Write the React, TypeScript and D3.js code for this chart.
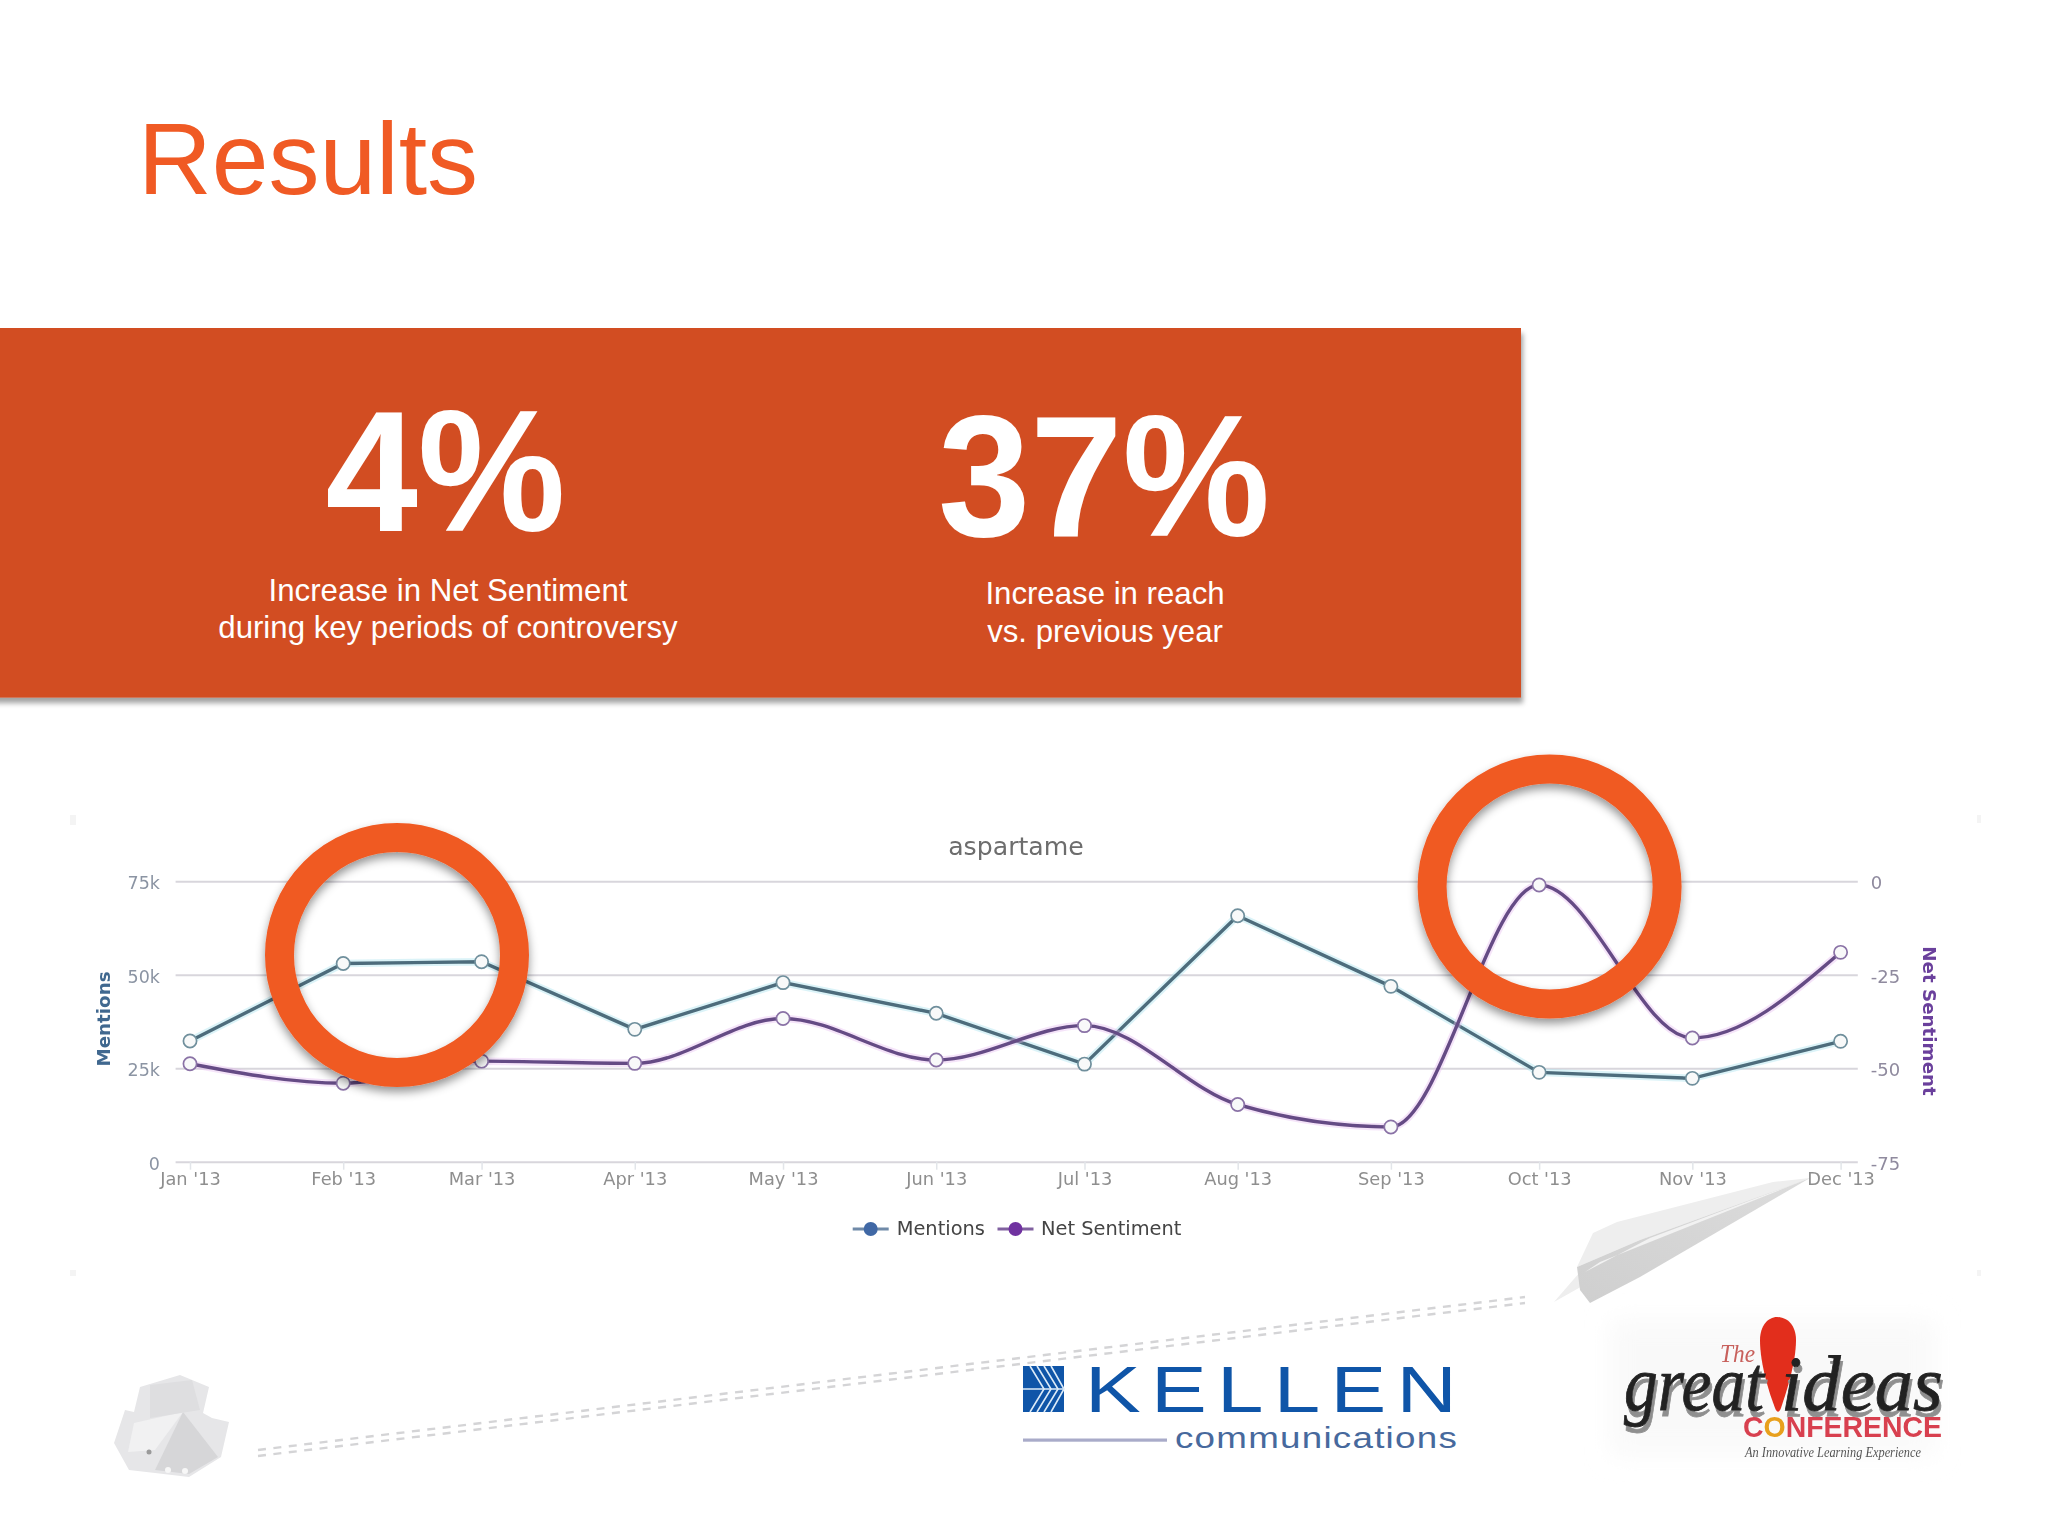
import React, { useEffect, useRef } from 'react';
import * as d3 from 'd3';

const months = ['2013-01-01', '2013-02-01', '2013-03-01', '2013-04-01', '2013-05-01', '2013-06-01',
  '2013-07-01', '2013-08-01', '2013-09-01', '2013-10-01', '2013-11-01', '2013-12-01'];
const monthLabels = ["Jan '13", "Feb '13", "Mar '13", "Apr '13", "May '13", "Jun '13",
  "Jul '13", "Aug '13", "Sep '13", "Oct '13", "Nov '13", "Dec '13"];
const mentions = [32300, 53000, 53500, 35400, 47900, 39700, 26100, 65800, 46900, 23900, 22300, 32200];
const netSentiment = [-48.8, -54, -48.1, -48.7, -36.7, -47.8, -38.6, -59.7, -65.7, -1, -41.9, -19];
const mentionTicks = [0, 25000, 50000, 75000];
const sentimentTicks = [-75, -50, -25, 0];

const SANS = '"Liberation Sans", Arial, sans-serif';
const SERIF = '"Liberation Serif", serif';
const CHART_FONT = '"DejaVu Sans", sans-serif';

const Results: React.FC = () => {
  const chartRef = useRef<SVGGElement>(null);

  useEffect(() => {
    if (!chartRef.current) return;
    const g = d3.select(chartRef.current);
    g.selectAll('*').remove();

    const dates = months.map(d => d3.utcParse('%Y-%m-%d')(d) as Date);
    const left = 175.6, right = 1857.8, top = 881.3, bottom = 1161.7;

    const x = d3.scaleUtc().domain([dates[0], dates[11]]).range([190, 1840.6]);
    const yLeft = d3.scaleLinear().domain([0, 75000]).range([bottom, top]);
    const yRight = d3.scaleLinear().domain([-75, 0]).range([bottom, top]);

    // left axis also draws the grid
    const leftAxis = g.append('g')
      .attr('transform', `translate(${left},0)`)
      .call(d3.axisLeft(yLeft).tickValues(mentionTicks).tickSize(-(right - left)).tickPadding(15.6)
        .tickFormat(d => (+d === 0 ? '0' : `${+d / 1000}k`)));
    leftAxis.select('.domain').remove();
    leftAxis.selectAll('line').attr('stroke', '#d8d6dc').attr('stroke-width', 2);
    leftAxis.selectAll('text').attr('fill', '#8b94a3').attr('font-size', 17.5)
      .attr('font-family', CHART_FONT).attr('dy', '0.42em');

    const rightAxis = g.append('g')
      .attr('transform', `translate(${right},0)`)
      .call(d3.axisRight(yRight).tickValues(sentimentTicks).tickSize(0).tickPadding(13)
        .tickFormat(d => String(d)));
    rightAxis.select('.domain').remove();
    rightAxis.selectAll('text').attr('fill', '#8f8a9e').attr('font-size', 18)
      .attr('font-family', CHART_FONT).attr('dy', '0.42em');

    const bottomAxis = g.append('g')
      .attr('transform', `translate(0,${bottom})`)
      .call(d3.axisBottom(x).tickValues(dates).tickSize(8).tickPadding(3)
        .tickFormat((_, i) => monthLabels[i]));
    bottomAxis.select('.domain').remove();
    bottomAxis.selectAll('line').attr('stroke', '#e2e5e9').attr('stroke-width', 1.5);
    bottomAxis.selectAll('text').attr('fill', '#8e8e8e').attr('font-size', 17.8)
      .attr('font-family', CHART_FONT);

    // titles
    g.append('text').attr('x', 1016).attr('y', 855).attr('text-anchor', 'middle')
      .attr('font-family', CHART_FONT).attr('font-size', 25.2).attr('fill', '#6d6d6d').text('aspartame');
    g.append('text').attr('transform', 'translate(110,1019) rotate(-90)').attr('text-anchor', 'middle')
      .attr('font-family', CHART_FONT).attr('font-size', 18.3).attr('font-weight', 'bold')
      .attr('fill', '#40688f').text('Mentions');
    g.append('text').attr('transform', 'translate(1923,1021) rotate(90)').attr('text-anchor', 'middle')
      .attr('font-family', CHART_FONT).attr('font-size', 18.3).attr('font-weight', 'bold')
      .attr('fill', '#6b3f9c').text('Net Sentiment');

    // series
    const lineMentions = d3.line<number>()
      .x((_, i) => x(dates[i])).y(d => yLeft(d));
    const lineSentiment = d3.line<number>()
      .x((_, i) => x(dates[i])).y(d => yRight(d)).curve(d3.curveMonotoneX);

    const series = [
      { values: mentions, path: lineMentions, y: yLeft, color: '#4d6c7b', halo: '#a5e0ee', marker: '#6f8f9c' },
      { values: netSentiment, path: lineSentiment, y: yRight, color: '#654c85', halo: '#e6bcf0', marker: '#8a72a6' },
    ];
    series.forEach(s => {
      g.append('path').attr('d', s.path(s.values)).attr('fill', 'none')
        .attr('stroke', s.halo).attr('stroke-opacity', 0.4).attr('stroke-width', 7.5);
      g.append('path').attr('d', s.path(s.values)).attr('fill', 'none')
        .attr('stroke', s.color).attr('stroke-width', 3.4);
    });
    series.forEach(s => {
      g.selectAll(null).data(s.values).enter().append('circle')
        .attr('cx', (_, i) => x(dates[i])).attr('cy', d => s.y(d)).attr('r', 6.6)
        .attr('fill', '#f8f9f9').attr('stroke', s.marker).attr('stroke-width', 1.7);
    });

    // legend
    const legend = [
      { name: 'Mentions', sx: 870.7, color: '#3f68a5', line: '#6f8aa8', tx: 896.7 },
      { name: 'Net Sentiment', sx: 1015.5, color: '#7030a0', line: '#80609f', tx: 1041 },
    ];
    legend.forEach(l => {
      g.append('line').attr('x1', l.sx - 18).attr('x2', l.sx + 18).attr('y1', 1229).attr('y2', 1229)
        .attr('stroke', l.line).attr('stroke-width', 3);
      g.append('circle').attr('cx', l.sx).attr('cy', 1229).attr('r', 7).attr('fill', l.color);
      g.append('text').attr('x', l.tx).attr('y', 1235).attr('font-family', CHART_FONT)
        .attr('font-size', 19.4).attr('fill', '#444').text(l.name);
    });
  }, []);

  return (
    <svg width={2048} height={1536} viewBox="0 0 2048 1536"
      style={{ position: 'absolute', left: 0, top: 0, display: 'block', background: '#fff' }}>
      <defs>
        <filter id="boxShadow" x="-2%" y="-5%" width="104%" height="112%">
          <feDropShadow dx="2" dy="5.5" stdDeviation="2.5" floodColor="#000" floodOpacity="0.36" />
        </filter>
        <filter id="ringShadow" x="-20%" y="-20%" width="140%" height="140%">
          <feDropShadow dx="0" dy="5" stdDeviation="5" floodColor="#000" floodOpacity="0.42" />
        </filter>
        <filter id="soft"><feGaussianBlur stdDeviation="0.55" /></filter>
        <filter id="halo" x="-20%" y="-30%" width="140%" height="160%"><feGaussianBlur stdDeviation="12" /></filter>
        <filter id="inkShadow" x="-5%" y="-10%" width="110%" height="130%">
          <feGaussianBlur in="SourceGraphic" stdDeviation="0.5" result="ink" />
          <feOffset in="SourceAlpha" dx="2" dy="6" result="off" />
          <feFlood floodColor="#8f8f8f" />
          <feComposite in2="off" operator="in" result="shade" />
          <feMerge>
            <feMergeNode in="shade" />
            <feMergeNode in="ink" />
          </feMerge>
        </filter>
        <linearGradient id="planeBody" x1="0" y1="1" x2="1" y2="0">
          <stop offset="0" stopColor="#cfcfcf" />
          <stop offset="1" stopColor="#dcdcdc" />
        </linearGradient>
      </defs>

      <text x={138} y={193.5} fontFamily={SANS} fontSize={102} fill="#F05A24">Results</text>

      <rect x={-10} y={328} width={1531} height={369.6} fill="#D24E24" filter="url(#boxShadow)" />
      <g fill="#fff" fontFamily={SANS} textAnchor="middle">
        <text x={445.5} y={531} fontSize={172} fontWeight="bold" textLength={240} lengthAdjust="spacingAndGlyphs">4%</text>
        <text x={1104} y={535.5} fontSize={172} fontWeight="bold" textLength={332} lengthAdjust="spacingAndGlyphs">37%</text>
        <text x={448} y={601} fontSize={31.2}>Increase in Net Sentiment</text>
        <text x={448} y={637.5} fontSize={31.2}>during key periods of controversy</text>
        <text x={1105} y={604} fontSize={31.2}>Increase in reach</text>
        <text x={1105} y={641.5} fontSize={31.2}>vs. previous year</text>
      </g>

      {/* faint corners of the pasted chart image */}
      <g fill="#f4f4f4" filter="url(#soft)">
        <rect x={70} y={815} width={6} height={10} />
        <rect x={1977} y={815} width={4} height={8} />
        <rect x={70} y={1270} width={6} height={6} />
        <rect x={1977} y={1270} width={4} height={6} />
      </g>

      {/* paper ball, dashed trail, plane */}
      <g filter="url(#soft)">
        <polygon points="114,1443 125,1410 134,1412 140,1387 180,1375 209,1387 203,1413 212,1418 229,1422 221,1457 189,1477 155,1473 129,1470" fill="#e6e6e8" />
        <polygon points="183,1412 218,1457 189,1474 155,1470" fill="#d6d6d8" />
        <polygon points="134,1423 183,1412 155,1450 128,1452" fill="#f1f1f2" />
        <polygon points="150,1385 192,1380 200,1410 150,1418" fill="#dedee0" />
        <circle cx={149} cy={1452} r={2.5} fill="#9a9a9a" />
        <circle cx={168} cy={1470} r={3} fill="#f7f7f7" />
        <circle cx={185} cy={1471} r={3} fill="#f7f7f7" />
      </g>
      <g fill="none" stroke="#d4d4d6" strokeWidth={2.4} strokeDasharray="8 7.5" filter="url(#soft)">
        <line x1={258} y1={1450} x2={1525} y2={1297} />
        <line x1={258} y1={1456} x2={1525} y2={1303} />
      </g>
      <g filter="url(#soft)">
        <polygon points="1554,1302 1580,1272 1586,1284" fill="#eeeeee" />
        <polygon points="1810,1178 1773,1182 1617,1222 1593,1233 1577,1267 1640,1240" fill="#eeeeee" />
        <polygon points="1810,1178 1640,1240 1577,1267 1580,1290 1590,1303 1640,1277" fill="url(#planeBody)" />
        <polygon points="1810,1178 1650,1238 1585,1272 1600,1262" fill="#f2f2f2" />
      </g>

      <g ref={chartRef} filter="url(#soft)" />

      <circle cx={397} cy={955} r={117.5} fill="none" stroke="#F05A24" strokeWidth={29} filter="url(#ringShadow)" />
      <circle cx={1549.6} cy={886.5} r={117.5} fill="none" stroke="#F05A24" strokeWidth={29} filter="url(#ringShadow)" />

      {/* Kellen logo */}
      <g>
        <rect x={1023} y={1366} width={41} height={46} fill="#0f55a8" />
        <g stroke="#dcebf8" strokeWidth={1.6} fill="none">
          <path d="M1030,1366 L1044,1389 L1030,1412" />
          <path d="M1037,1366 L1051,1389 L1037,1412" />
          <path d="M1044,1366 L1058,1389 L1044,1412" />
          <path d="M1051,1366 L1064,1389 L1051,1412" />
          <path d="M1023,1389 L1064,1389" />
        </g>
        <text x={1085} y={1412.3} fontFamily={SANS} fontSize={65} fill="#0f55a8" letterSpacing={8}
          textLength={382} lengthAdjust="spacingAndGlyphs">KELLEN</text>
        <rect x={1023} y={1438.5} width={144} height={3.2} fill="#a9abc9" />
        <text x={1175} y={1447.7} fontFamily={SANS} fontSize={29.5} fill="#47699d" letterSpacing={1}
          textLength={283} lengthAdjust="spacingAndGlyphs">communications</text>
      </g>

      {/* great ideas logo */}
      <rect x={1610} y={1320} width={325} height={135} fill="#f9f9f9" filter="url(#halo)" />
      <g filter="url(#soft)">
        <path d="M1777,1317 C1768,1317 1760,1326 1760,1340 C1760,1365 1770,1395 1775,1408 C1777,1413 1779,1413 1781,1408 C1787,1390 1796,1362 1796,1340 C1796,1326 1788,1317 1777,1317 Z" fill="#e22d1c" />
        <text x={1720} y={1362} fontFamily={SERIF} fontStyle="italic" fontSize={25} fill="#c8605c"
          textLength={35} lengthAdjust="spacingAndGlyphs">The</text>
        <g fontFamily={SERIF} fontStyle="italic" fontSize={78} fill="#222" stroke="#222" strokeWidth={0.8} filter="url(#inkShadow)">
          <text x={1624} y={1410} textLength={140} lengthAdjust="spacingAndGlyphs">great</text>
          <text x={1781} y={1410} textLength={162} lengthAdjust="spacingAndGlyphs">ideas</text>
        </g>
        <text x={1743} y={1437} fontFamily={SANS} fontWeight="bold" fontSize={30} fill="#d8414f"
          textLength={199} lengthAdjust="spacingAndGlyphs">C<tspan fill="#e8a01f">O</tspan>NFERENCE</text>
        <text x={1745} y={1457} fontFamily={SERIF} fontStyle="italic" fontSize={15} fill="#555"
          textLength={176} lengthAdjust="spacingAndGlyphs">An Innovative Learning Experience</text>
      </g>
    </svg>
  );
};

export default function App() {
  return <Results />;
}
